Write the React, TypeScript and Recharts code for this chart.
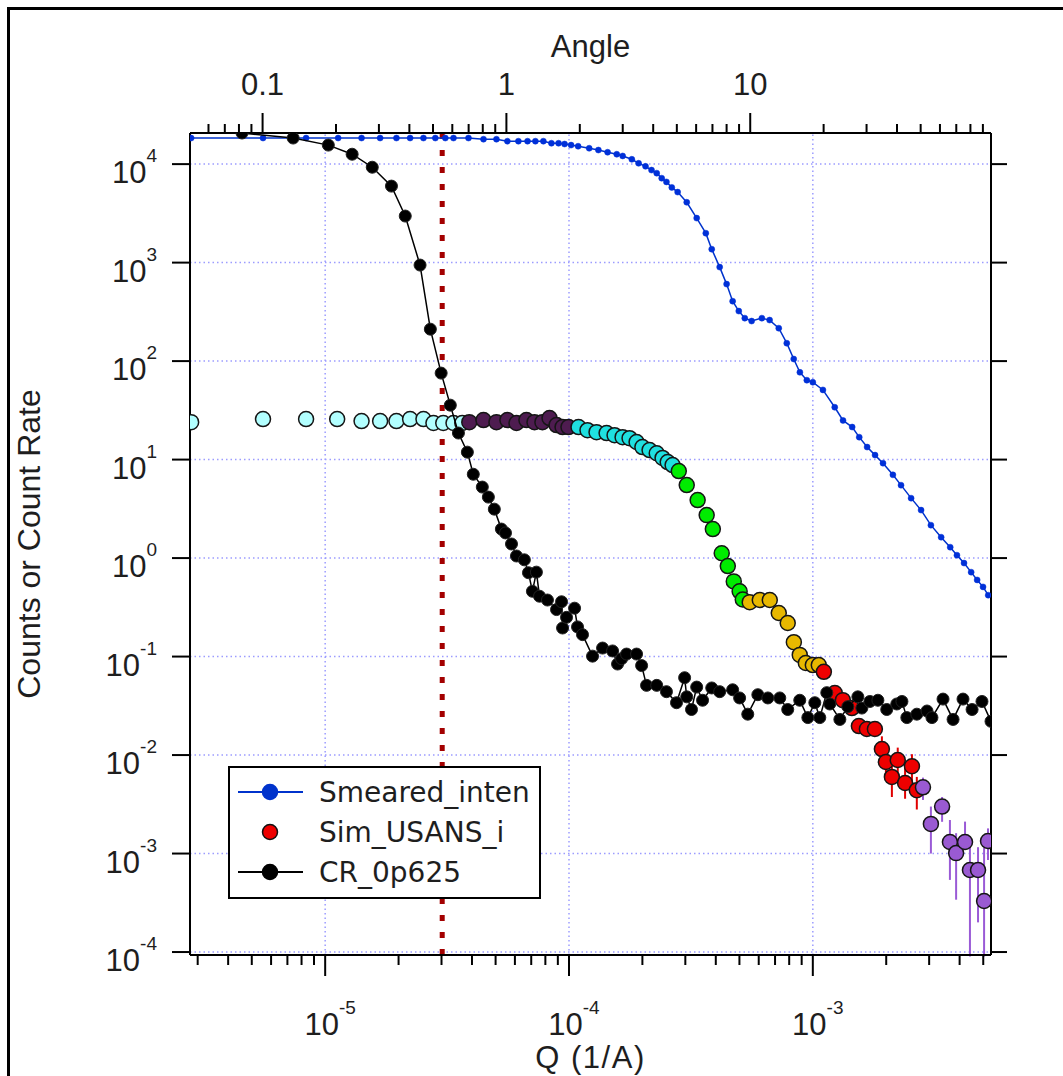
import React from 'react';
import { ScatterChart, Scatter, XAxis, YAxis, ReferenceLine, ErrorBar, Legend, Label } from 'recharts';

// [Q (1/A), counts]
const smeared: [number, number][] = [
  [2.82e-6, 1.84e4], [5.56e-6, 1.84e4], [8.35e-6, 1.84e4], [1.13e-5, 1.84e4], [1.41e-5, 1.84e4],
  [1.68e-5, 1.84e4], [1.96e-5, 1.84e4], [2.23e-5, 1.84e4], [2.53e-5, 1.84e4], [2.83e-5, 1.84e4],
  [3.11e-5, 1.84e4], [3.36e-5, 1.84e4], [3.87e-5, 1.84e4], [4.46e-5, 1.79e4], [5.04e-5, 1.79e4],
  [5.59e-5, 1.71e4], [6.2e-5, 1.71e4], [6.76e-5, 1.71e4], [7.28e-5, 1.71e4], [7.85e-5, 1.71e4],
  [8.47e-5, 1.63e4], [9.06e-5, 1.63e4], [9.59e-5, 1.6e4], [1.02e-4, 1.56e4], [1.09e-4, 1.52e4],
  [1.21e-4, 1.45e4], [1.32e-4, 1.39e4], [1.44e-4, 1.32e4], [1.57e-4, 1.26e4], [1.66e-4, 1.21e4],
  [1.81e-4, 1.12e4], [1.93e-4, 1.02e4], [2.06e-4, 9500], [2.18e-4, 8700], [2.29e-4, 8100],
  [2.4e-4, 7200], [2.51e-4, 6600], [2.64e-4, 5800], [2.79e-4, 5200], [3.04e-4, 4100],
  [3.34e-4, 2830], [3.64e-4, 1990], [3.85e-4, 1370], [4.15e-4, 900], [4.43e-4, 605],
  [4.69e-4, 406], [4.97e-4, 322], [5.26e-4, 273], [5.61e-4, 255], [6.18e-4, 273],
  [6.65e-4, 261], [7.25e-4, 216], [7.82e-4, 152], [8.35e-4, 105], [8.85e-4, 77],
  [9.45e-4, 64], [1.0e-3, 61], [1.1e-3, 51], [1.23e-3, 34], [1.33e-3, 25],
  [1.45e-3, 21.4], [1.55e-3, 16.9], [1.67e-3, 13.4], [1.8e-3, 11.1], [1.94e-3, 9.2],
  [2.13e-3, 7.0], [2.3e-3, 5.5], [2.53e-3, 4.06], [2.78e-3, 3.07], [3.05e-3, 2.16],
  [3.36e-3, 1.63], [3.66e-3, 1.29], [3.9e-3, 1.07], [4.17e-3, 0.89], [4.46e-3, 0.72],
  [4.72e-3, 0.6], [4.99e-3, 0.51], [5.24e-3, 0.42],
];

const crRate: [number, number][] = [
  [4.56e-6, 2.07e4], [7.39e-6, 1.84e4], [1.03e-5, 1.56e4], [1.29e-5, 1.26e4], [1.56e-5, 9300],
  [1.87e-5, 5980], [2.13e-5, 2970], [2.45e-5, 944], [2.7e-5, 211], [2.99e-5, 75.5],
  [3.26e-5, 35.7], [3.52e-5, 18.6], [3.83e-5, 11.9], [4.05e-5, 7.1], [4.41e-5, 5.26],
  [4.67e-5, 4.16], [4.94e-5, 3.14], [5.28e-5, 1.97], [5.49e-5, 1.8], [5.81e-5, 1.39],
  [6.09e-5, 1.05], [6.56e-5, 0.96], [6.82e-5, 0.71], [7.08e-5, 0.46], [7.35e-5, 0.72],
  [7.57e-5, 0.41], [8.16e-5, 0.375], [8.89e-5, 0.3], [9.32e-5, 0.36], [9.41e-5, 0.195],
  [9.77e-5, 0.25], [1.054e-4, 0.31], [1.084e-4, 0.2], [1.136e-4, 0.167], [1.249e-4, 0.101],
  [1.373e-4, 0.122], [1.509e-4, 0.114], [1.582e-4, 0.084], [1.643e-4, 0.095], [1.722e-4, 0.106],
  [1.893e-4, 0.106], [1.985e-4, 0.081], [2.08e-4, 0.051], [2.29e-4, 0.051], [2.51e-4, 0.044],
  [2.76e-4, 0.034], [2.98e-4, 0.061], [3.04e-4, 0.039], [3.18e-4, 0.029], [3.34e-4, 0.049],
  [3.53e-4, 0.036], [3.85e-4, 0.048], [4.15e-4, 0.044], [4.69e-4, 0.046], [5.01e-4, 0.038],
  [5.41e-4, 0.026], [5.95e-4, 0.041], [6.54e-4, 0.038], [7.32e-4, 0.038], [7.89e-4, 0.029],
  [8.84e-4, 0.036], [9.54e-4, 0.024], [1.019e-3, 0.034], [1.068e-3, 0.024], [1.141e-3, 0.043],
  [1.174e-3, 0.033], [1.291e-3, 0.023], [1.392e-3, 0.031], [1.53e-3, 0.039], [1.589e-3, 0.03],
  [1.714e-3, 0.035], [1.849e-3, 0.036], [2.01e-3, 0.029], [2.21e-3, 0.033], [2.32e-3, 0.035],
  [2.43e-3, 0.024], [2.67e-3, 0.026], [2.94e-3, 0.028], [3.08e-3, 0.024], [3.42e-3, 0.037],
  [3.76e-3, 0.023], [4.13e-3, 0.037], [4.5e-3, 0.029], [4.94e-3, 0.035], [5.38e-3, 0.022],
];

// Sim_USANS_i, split by the colour it is drawn in
const usansPale: [number, number][] = [
  [2.82e-6, 24.0], [5.56e-6, 25.8], [8.35e-6, 25.8], [1.12e-5, 25.8], [1.41e-5, 24.6],
  [1.68e-5, 24.6], [1.96e-5, 24.6], [2.23e-5, 25.8], [2.53e-5, 25.8], [2.78e-5, 23.5],
  [3.05e-5, 23.5], [3.36e-5, 23.5], [3.65e-5, 23.5],
];
const usansPlum: [number, number][] = [
  [3.9e-5, 24.0], [4.46e-5, 25.2], [5.04e-5, 24.0], [5.59e-5, 25.2], [6.09e-5, 23.5],
  [6.69e-5, 25.2], [7.22e-5, 24.0], [7.78e-5, 24.0], [8.32e-5, 26.4], [8.89e-5, 22.4],
  [9.41e-5, 21.4], [9.95e-5, 21.4],
];
const usansCyan: [number, number][] = [
  [1.094e-4, 21.4], [1.191e-4, 19.9], [1.297e-4, 19.0], [1.426e-4, 18.6], [1.538e-4, 17.7],
  [1.659e-4, 16.9], [1.772e-4, 16.5], [1.893e-4, 15.1], [2.0e-4, 13.4], [2.14e-4, 12.5],
  [2.29e-4, 11.6], [2.42e-4, 10.4], [2.54e-4, 9.44], [2.66e-4, 8.8],
];
const usansGreen: [number, number][] = [
  [2.82e-4, 7.64], [3.04e-4, 5.51], [3.37e-4, 3.88], [3.67e-4, 2.73], [3.89e-4, 1.97],
  [4.23e-4, 1.12], [4.48e-4, 0.83], [4.74e-4, 0.58], [5.01e-4, 0.46], [5.16e-4, 0.38],
];
const usansGold: [number, number][] = [
  [5.51e-4, 0.357], [6.06e-4, 0.375], [6.66e-4, 0.375], [7.25e-4, 0.277], [7.89e-4, 0.219],
  [8.36e-4, 0.14], [8.84e-4, 0.104], [9.36e-4, 0.086], [1.0e-3, 0.082], [1.058e-3, 0.082],
];
const usansRed: [number, number][] = [
  [1.11e-3, 0.07], [1.231e-3, 0.0426], [1.328e-3, 0.0361], [1.446e-3, 0.03], [1.545e-3, 0.0197],
  [1.666e-3, 0.0184], [1.797e-3, 0.0184], [1.92e-3, 0.0115], [1.994e-3, 0.0085], [2.11e-3, 0.006],
  [2.23e-3, 0.0089], [2.39e-3, 0.0052], [2.55e-3, 0.0077], [2.67e-3, 0.0044],
];
const usansRedErr: [number, number][] = [
  [0, 0], [0, 0], [0, 0], [0, 0], [0, 0], [0, 0], [0, 0],
  [0.004, 0.004], [0.003, 0.003], [0.00225, 0.002], [0.003, 0.003], [0.0016, 0.0024],
  [0.0025, 0.0025], [0.0016, 0.0016],
];
const usansViolet: [number, number][] = [
  [2.83e-3, 0.0047], [3.05e-3, 0.002], [3.39e-3, 0.003], [3.65e-3, 0.00131], [3.87e-3, 0.00101],
  [4.21e-3, 0.00131], [4.41e-3, 0.00068], [4.76e-3, 0.00068], [5.04e-3, 0.00033], [5.23e-3, 0.00134],
];
const usansVioletErr: [number, number][] = [
  [0.0012, 0.0012], [0.001, 0.001], [0.0009, 0.00075], [0.00077, 0.00088], [0.00067, 0.0006],
  [0.0002, 0.0008], [0.00059, 0.00048], [0.00048, 0.00048], [0.00024, 0.00083], [0.00048, 0.00046],
];

const qMajorTicks = [1e-5, 1e-4, 1e-3];
const qMinorTicks = [
  3e-6, 4e-6, 5e-6, 6e-6, 7e-6, 8e-6, 9e-6,
  2e-5, 3e-5, 4e-5, 5e-5, 6e-5, 7e-5, 8e-5, 9e-5,
  2e-4, 3e-4, 4e-4, 5e-4, 6e-4, 7e-4, 8e-4, 9e-4,
  2e-3, 3e-3, 4e-3, 5e-3,
];
const angleMajorTicks = [0.1, 1, 10];
const angleMinorTicks = [
  0.06, 0.07, 0.08, 0.09, 0.2, 0.3, 0.4, 0.5, 0.6, 0.7, 0.8, 0.9,
  2, 3, 4, 5, 6, 7, 8, 9, 20, 30, 40, 50, 60, 70, 80, 90,
];
const yDecades = [1e-4, 1e-3, 1e-2, 1e-1, 1, 10, 100, 1e3, 1e4];
const cutoffQ = 3.02e-5;
const anglePerQ = 18060;

const Q_DOMAIN: [number, number] = [2.79e-6, 5.38e-3];
const I_DOMAIN: [number, number] = [9.33e-5, 2.07e4];

const TICK_FONT = '"Liberation Sans", Arial, sans-serif';
const LEGEND_FONT = '"DejaVu Sans", Verdana, sans-serif';
const INK = '#1e1e1e';

const isOneOf = (v: number, list: number[]) => list.some((m) => Math.abs(v / m - 1) < 1e-6);
const expOf = (v: number) => Math.round(Math.log10(v));

const toPoints = (rows: [number, number][], err?: [number, number][]) =>
  rows.map(([q, i], k) => ({ q, i, err: err ? err[k] : [0, 0] }));

function QTick({ x, y, payload }: any) {
  const major = isOneOf(payload.value, qMajorTicks);
  return (
    <g>
      <line x1={x} y1={y} x2={x} y2={y + (major ? 21 : 10)} stroke="#000" strokeWidth={2} />
      {major && (
        <text x={x + 5} y={y + 80} textAnchor="middle" fontFamily={TICK_FONT} fontSize={31} fill={INK}>
          10<tspan fontSize={19} dy={-21}>{expOf(payload.value)}</tspan>
        </text>
      )}
    </g>
  );
}

function AngleTick({ x, y, payload }: any) {
  const angle = payload.value * anglePerQ;
  const major = angleMajorTicks.find((a) => Math.abs(angle / a - 1) < 1e-6);
  return (
    <g>
      <line x1={x} y1={y} x2={x} y2={y - (major !== undefined ? 20 : 9)} stroke="#000" strokeWidth={2} />
      {major !== undefined && (
        <text x={x} y={y - 38} textAnchor="middle" fontFamily={TICK_FONT} fontSize={31} fill={INK}>
          {String(major)}
        </text>
      )}
    </g>
  );
}

function LeftTick({ x, y, payload }: any) {
  return (
    <g>
      <line x1={x - 18} y1={y} x2={x} y2={y} stroke="#000" strokeWidth={2} />
      <text x={x - 33} y={y + 19} textAnchor="end" fontFamily={TICK_FONT} fontSize={31} fill={INK}>
        10<tspan fontSize={19} dy={-21}>{expOf(payload.value)}</tspan>
      </text>
    </g>
  );
}

function RightTick({ x, y }: any) {
  return <line x1={x} y1={y} x2={x + 16} y2={y} stroke="#000" strokeWidth={2} />;
}

const legendItems = [
  { name: 'Smeared_inten', color: '#0033cc', line: true, outline: '#0033cc' },
  { name: 'Sim_USANS_i', color: '#ee0000', line: false, outline: '#111' },
  { name: 'CR_0p625', color: '#000000', line: true, outline: '#000' },
];

function LegendBox() {
  return (
    <svg width={313} height={133} style={{ display: 'block' }}>
      <rect x={1} y={1} width={311} height={131} fill="#fff" stroke="#000" strokeWidth={2} />
      {legendItems.map((it, k) => {
        const cy = 26 + k * 40;
        return (
          <g key={it.name}>
            {it.line && <line x1={10} y1={cy} x2={75} y2={cy} stroke={it.color} strokeWidth={2} />}
            <circle cx={42} cy={cy} r={7.5} fill={it.color} stroke={it.outline} strokeWidth={1.5} />
            <text x={91} y={cy + 10} fontFamily={LEGEND_FONT} fontSize={28} fill={INK}>
              {it.name}
            </text>
          </g>
        );
      })}
    </svg>
  );
}

const dot = (r: number, fill: string, stroke: string, sw: number) => (p: any) =>
  <circle cx={p.cx} cy={p.cy} r={r} fill={fill} stroke={stroke} strokeWidth={sw} />;

const usansGroups = [
  { key: 'pale', rows: usansPale, fill: '#b2ffff' },
  { key: 'plum', rows: usansPlum, fill: '#4e1c50' },
  { key: 'cyan', rows: usansCyan, fill: '#1fe0e0' },
  { key: 'green', rows: usansGreen, fill: '#00ec00' },
  { key: 'gold', rows: usansGold, fill: '#e8b800' },
];

export default function App() {
  return (
    <div style={{ position: 'absolute', left: 0, top: 0, width: 1063, height: 1076, background: '#fff' }}>
      <div
        style={{
          position: 'absolute', left: 7, top: 7, right: 0, bottom: 0,
          borderLeft: '3px solid #000', borderTop: '3px solid #000',
        }}
      />
      <ScatterChart width={1063} height={1076} margin={{ top: 73, right: 32, bottom: 61, left: 90 }}>
        <XAxis
          xAxisId="q" dataKey="q" type="number" scale="log" domain={Q_DOMAIN} allowDataOverflow
          orientation="bottom" height={60} ticks={[...qMajorTicks, ...qMinorTicks].sort((a, b) => a - b)}
          interval={0} tick={<QTick />} tickLine={false} tickSize={0} tickMargin={0}
          axisLine={{ stroke: '#000', strokeWidth: 2 }}
        >
          <Label
            content={({ viewBox }: any) => (
              <text x={viewBox.x + viewBox.width / 2} y={1068} textAnchor="middle" fontFamily={TICK_FONT} fontSize={31} letterSpacing={1.5} fill={INK}>
                Q (1/A)
              </text>
            )}
          />
        </XAxis>
        {/* same Q range on top, ticked in angle units */}
        <XAxis
          xAxisId="angle" dataKey="q" type="number" scale="log" domain={Q_DOMAIN} allowDataOverflow
          orientation="top" height={60}
          ticks={[...angleMajorTicks, ...angleMinorTicks].map((a) => a / anglePerQ).sort((a, b) => a - b)}
          interval={0} tick={<AngleTick />} tickLine={false} tickSize={0} tickMargin={0}
          axisLine={{ stroke: '#000', strokeWidth: 2 }}
        >
          <Label
            content={({ viewBox }: any) => (
              <text x={viewBox.x + viewBox.width / 2} y={57} textAnchor="middle" fontFamily={TICK_FONT} fontSize={31} fill={INK}>
                Angle
              </text>
            )}
          />
        </XAxis>
        <YAxis
          yAxisId="left" dataKey="i" type="number" scale="log" domain={I_DOMAIN} allowDataOverflow
          orientation="left" width={100} ticks={yDecades} interval={0} tick={<LeftTick />}
          tickLine={false} tickSize={0} tickMargin={0} axisLine={{ stroke: '#000', strokeWidth: 2 }}
        >
          <Label
            content={({ viewBox }: any) => {
              const cy = viewBox.y + viewBox.height / 2;
              return (
                <text x={40} y={cy} transform={`rotate(-90 40 ${cy})`} textAnchor="middle" fontFamily={TICK_FONT} fontSize={32} fill={INK}>
                  Counts or Count Rate
                </text>
              );
            }}
          />
        </YAxis>
        <YAxis
          yAxisId="right" type="number" scale="log" domain={I_DOMAIN} allowDataOverflow
          orientation="right" width={40} ticks={yDecades} interval={0} tick={<RightTick />}
          tickLine={false} tickSize={0} tickMargin={0} axisLine={{ stroke: '#000', strokeWidth: 2 }}
        />

        {qMajorTicks.map((q) => (
          <ReferenceLine key={`gx${q}`} xAxisId="q" yAxisId="left" x={q} stroke="#9c9cff" strokeWidth={1.5} strokeDasharray="1.5 3" />
        ))}
        {yDecades.map((v) => (
          <ReferenceLine key={`gy${v}`} xAxisId="q" yAxisId="left" y={v} stroke="#9c9cff" strokeWidth={1.5} strokeDasharray="1.5 3" />
        ))}

        <Scatter
          name="Smeared_inten" xAxisId="angle" yAxisId="left" data={toPoints(smeared)}
          line={{ stroke: '#0033cc', strokeWidth: 1.5 }} lineType="joint"
          shape={dot(3, '#0030d8', '#0030d8', 0.5)} isAnimationActive={false}
        />
        {usansGroups.map((g) => (
          <Scatter
            key={g.key} name="Sim_USANS_i" xAxisId="q" yAxisId="left" data={toPoints(g.rows)}
            shape={dot(7.5, g.fill, '#151515', 1.5)} isAnimationActive={false}
          />
        ))}
        <Scatter
          name="Sim_USANS_i" xAxisId="q" yAxisId="left" data={toPoints(usansRed, usansRedErr)}
          shape={dot(7.5, '#ee0000', '#151515', 1.5)} isAnimationActive={false}
        >
          <ErrorBar dataKey="err" direction="y" width={0} stroke="#e00000" strokeWidth={2} />
        </Scatter>
        <Scatter
          name="Sim_USANS_i" xAxisId="q" yAxisId="left" data={toPoints(usansViolet, usansVioletErr)}
          shape={dot(7.5, '#9a5ad2', '#151515', 1.5)} isAnimationActive={false}
        >
          <ErrorBar dataKey="err" direction="y" width={0} stroke="#9a5ad6" strokeWidth={2} />
        </Scatter>
        <Scatter
          name="CR_0p625" xAxisId="q" yAxisId="left" data={toPoints(crRate)}
          line={{ stroke: '#000', strokeWidth: 1.5 }} lineType="joint"
          shape={dot(6, '#000', '#222', 1)} isAnimationActive={false}
        />

        <ReferenceLine xAxisId="q" yAxisId="left" x={cutoffQ} stroke="#a30000" strokeWidth={5} strokeDasharray="6 11" />

        <Legend
          layout="horizontal" verticalAlign="middle" align="center"
          content={() => <LegendBox />}
          wrapperStyle={{ left: 228, top: 766, width: 313, height: 133 }}
        />
      </ScatterChart>
    </div>
  );
}
